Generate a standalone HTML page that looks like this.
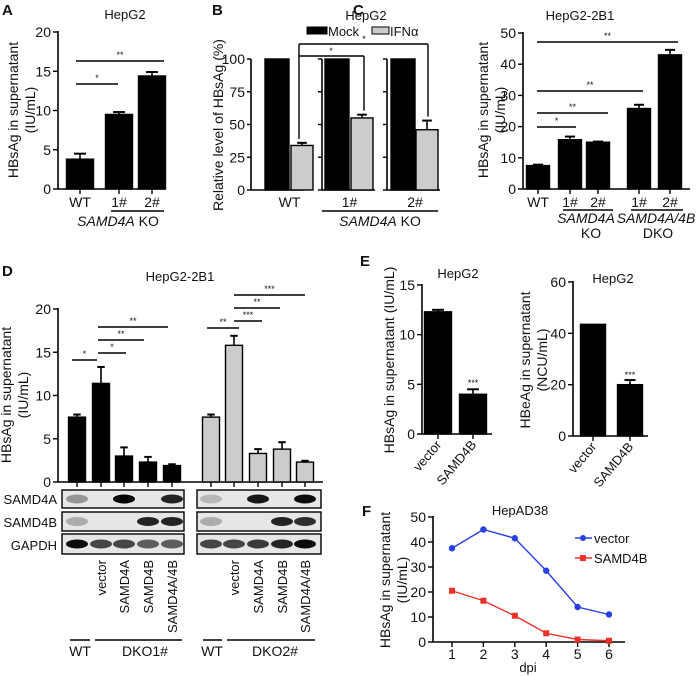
<!DOCTYPE html>
<html><head><meta charset="utf-8"><style>
body{margin:0;background:#fff}
svg{display:block;font-family:"Liberation Sans",Arial,sans-serif}
text{fill:#111}
</style></head><body>
<svg id="fig" width="698" height="676" viewBox="0 0 698 676"></svg>
<script>
// ---- data ----
const aCats=["WT","1#","2#"]; const aVals=[3.8,9.5,14.4]; const aErr=[0.7,0.3,0.5]; const aTicks=[0,5,10,15,20];
const bMock=[100,100,100]; const bIfn=[34,55,46]; const bIfnErr=[2,2.5,7]; const bTicks=[0,25,50,75,100]; const bCats=["WT","1#","2#"];
const cCats=["WT","1#","2#","1#","2#"]; const cVals=[7.5,15.8,15,25.8,43]; const cErr=[0.3,1,0.2,1.2,1.6]; const cTicks=[0,10,20,30,40,50];
const dCats=["WT","vector","SAMD4A","SAMD4B","SAMD4A/4B"]; const d1Vals=[7.5,11.4,3,2.3,1.9]; const d1Err=[0.3,1.9,1,0.6,0.15];
const d2Vals=[7.5,15.8,3.3,3.8,2.3]; const d2Err=[0.3,1.1,0.5,0.8,0.15]; const dTicks=[0,5,10,15,20];
const eCats=["vector","SAMD4B"]; const e1Vals=[12.3,4]; const e1Err=[0.2,0.5]; const e1Ticks=[0,5,10,15];
const e2Vals=[43.5,20]; const e2Err=[0,1.8]; const e2Ticks=[0,20,40,60];
const fDays=[1,2,3,4,5,6]; const fVector=[37.5,45,41.5,28.5,14,11]; const fSamd=[20.5,16.5,10.5,3.5,1,0.5]; const fTicks=[0,10,20,30,40,50];

const S=document.getElementById('fig'); const NS="http://www.w3.org/2000/svg";
function el(tag,at,txt,parent){const e=document.createElementNS(NS,tag);for(const k in at)e.setAttribute(k,at[k]);if(txt!==undefined)e.textContent=txt;(parent||S).appendChild(e);return e;}
function line(x1,y1,x2,y2,name,w){const l=el('line',{x1,y1,x2,y2,stroke:'#000','stroke-width':w||1.4});

return l;}
function txt(x,y,s,name,opt){opt=opt||{};const t=el('text',Object.assign({x,y,'font-size':opt.fs||12,'text-anchor':opt.a||'middle'},opt.attr||{}),s);

if(opt.it)t.setAttribute('font-style','italic');if(opt.b)t.setAttribute('font-weight','bold');if(opt.rot)t.setAttribute('transform',`rotate(${opt.rot} ${x} ${y})`);return t;}
function yAxis(x,y0,y1,ticks,max,name,xEnd){line(x,y1-1,x,y0,name+'-y-axis',1.6);line(x,y0,xEnd,y0,name+'-x-axis',1.6);
ticks.forEach(v=>{const y=y0-(y0-y1)*v/max;line(x-5,y,x,y,name+'-tick');txt(x-7,y+5,String(v),name+'-tick-label',{a:'end',fs:14});});}
function bar(cx,w,val,err,y0,y1,max,fill,name){const sy=v=>y0-(y0-y1)*v/max;const top=sy(val);
const r=el('rect',{x:cx-w/2,y:top,width:w,height:y0-top,fill,stroke:'#000','stroke-width':1.4});


if(err>0){const et=sy(val+err);line(cx,et,cx,top,name+'-error',1.6);line(cx-w*0.22,et,cx+w*0.22,et,name+'-error-cap',2);}return top;}
function star(x1,x2,y,s,name){line(x1,y,x2,y,name+'-line');txt((x1+x2)/2,y-3,s,name,{fs:9});}
function groupLabel(x,y,it,rest,name){const t=el('text',{x,y,'font-size':14,'text-anchor':'middle'});


el('tspan',{'font-style':'italic'},it,t);el('tspan',{},' '+rest,t);return t;}

// ---- Panel A ----
txt(2,15,'A','panel-a-label',{a:'start',b:1,fs:15});
txt(125,19,'HepG2','panel-a-title',{fs:13});
yAxis(58,189,32,aTicks,20,'panel-a',166);
const aX=[80,119,152];
aCats.forEach((c,i)=>{bar(aX[i],27,aVals[i],aErr[i],189,32,20,'#000','panel-a-bar-'+i);line(aX[i],189,aX[i],194,'panel-a-xtick');txt(aX[i],207,c,'panel-a-xlabel',{fs:14});});
star(76,118,84,'*','panel-a-sig-1');star(76,164,61,'**','panel-a-sig-2');
line(111,211,164,211,'panel-a-group-line');
groupLabel(118,226,'SAMD4A','KO','panel-a-group-label');
txt(18,110,'HBsAg in supernatant','panel-a-y-title',{fs:14,rot:-90});txt(35,110,'(IU/mL)','panel-a-y-title-2',{fs:14,rot:-90});

// ---- Panel B ----
txt(212,15,'B','panel-b-label',{a:'start',b:1,fs:15});
txt(366,20,'HepG2','panel-b-title',{fs:13});
let lg=el('rect',{x:307,y:27,width:20,height:7,fill:'#000',stroke:'#000'});
txt(328,36,'Mock','legend-mock',{a:'start',fs:13});
lg=el('rect',{x:372,y:27,width:17,height:7,fill:'#ccc',stroke:'#000'});
txt(390,36,'IFNα','legend-ifn',{a:'start',fs:13});
const bY0=190,bY1=59;
const bAx=[251,322,387]; const bMx=[277,337,403]; const bIx=[302,362,427];
bAx.forEach((ax,g)=>{line(ax,bY1,ax,bY0,'panel-b-axis-'+g,1.6);line(ax,bY0,ax+53,bY0,'panel-b-base-'+g,1.6);
bTicks.forEach(v=>{const y=bY0-(bY0-bY1)*v/100;line(ax-4,y,ax,y,'panel-b-tick');if(g==0)txt(ax-6,y+5,String(v),'panel-b-tick-label',{a:'end',fs:14});});
bar(bMx[g],24,bMock[g],0,bY0,bY1,100,'#000','panel-b-mock-'+g);
bar(bIx[g],22,bIfn[g],bIfnErr[g],bY0,bY1,100,'#ccc','panel-b-ifn-'+g);
txt((bMx[g]+bIx[g])/2,207,bCats[g],'panel-b-xlabel',{fs:14});});
const bs=v=>bY0-(bY0-bY1)*v/100;
line(299,44,428,44,'panel-b-bracket-outer');line(299,44,299,bs(bIfn[0]+bIfnErr[0])-4,'panel-b-bracket-leg');line(428,44,428,bs(bIfn[2]+bIfnErr[2])-4,'panel-b-bracket-leg');
line(299,56,364,56,'panel-b-bracket-inner');line(364,56,364,bs(bIfn[1]+bIfnErr[1])-4,'panel-b-bracket-leg');
txt(364,42,'*','panel-b-sig-outer',{fs:9});txt(331,54,'*','panel-b-sig-inner',{fs:9});
line(322,211,438,211,'panel-b-group-line');
groupLabel(380,226,'SAMD4A','KO','panel-b-group-label');
txt(223,125,'Relative level of HBsAg (%)','panel-b-y-title',{fs:14,rot:-90});

// ---- Panel C ----
txt(353,15,'C','panel-c-label',{a:'start',b:1,fs:15});
txt(580,20,'HepG2-2B1','panel-c-title',{fs:13});
yAxis(523,189,33,cTicks,50,'panel-c',690);
const cX=[538,570,598,639,670];
cCats.forEach((c,i)=>{bar(cX[i],23,cVals[i],cErr[i],189,33,50,'#000','panel-c-bar-'+i);line(cX[i],189,cX[i],194,'panel-c-xtick');txt(cX[i],207,c,'panel-c-xlabel',{fs:14});});
star(537,576,127,'*','panel-c-sig-1');star(537,608,113,'**','panel-c-sig-2');star(537,643,91,'**','panel-c-sig-3');star(537,678,42,'**','panel-c-sig-4');
line(563,210,613,210,'panel-c-group-line-1');line(631,210,683,210,'panel-c-group-line-2');
txt(586,223,'SAMD4A','panel-c-group-1',{fs:14,it:1});txt(656,223,'SAMD4A/4B','panel-c-group-2',{fs:14,it:1});
txt(591,238,'KO','panel-c-group-1b',{fs:14});txt(658,238,'DKO','panel-c-group-2b',{fs:14});
txt(488,110,'HBsAg in supernatant','panel-c-y-title',{fs:14,rot:-90});txt(505,110,'(IU/mL)','panel-c-y-title-2',{fs:14,rot:-90});

// ---- Panel D ----
txt(2,276,'D','panel-d-label',{a:'start',b:1,fs:15});
txt(180,281,'HepG2-2B1','panel-d-title',{fs:13});
yAxis(58,482,309,dTicks,20,'panel-d',323);
const d1X=[77,101,124,148,172], d2X=[211,234,258,282,305];
dCats.forEach((c,i)=>{bar(d1X[i],17,d1Vals[i],d1Err[i],482,309,20,'#000','panel-d-dko1-bar-'+i);bar(d2X[i],17,d2Vals[i],d2Err[i],482,309,20,'#ccc','panel-d-dko2-bar-'+i);
line(d1X[i],482,d1X[i],487,'panel-d-xtick');line(d2X[i],482,d2X[i],487,'panel-d-xtick');
if(i>0){txt(d1X[i]+5,560,c,'panel-d-lane-label',{fs:13,a:'end',rot:-90});txt(d2X[i]+5,560,c,'panel-d-lane-label',{fs:13,a:'end',rot:-90});}});
star(72,97,360,'*','panel-d-sig-1');star(98,126,353,'*','panel-d-sig-2');star(98,144,340,'**','panel-d-sig-3');star(98,168,327,'**','panel-d-sig-4');
star(207,239,328,'**','panel-d-sig-5');star(234,262,321,'***','panel-d-sig-6');star(234,280,308,'**','panel-d-sig-7');star(234,305,295,'***','panel-d-sig-8');
// blots
const blotRows=[["SAMD4A",490,508],["SAMD4B",512,531],["GAPDH",534,554]];
const blotInt={SAMD4A:[[0.35,0,1,0,0.85],[0.2,0,0.9,0,0.95]],SAMD4B:[[0.25,0,0,0.85,0.85],[0.25,0,0,0.85,0.8]],GAPDH:[[0.95,0.7,0.7,0.6,0.6],[0.7,0.7,0.75,0.85,0.95]]};
blotRows.forEach(([nm,y1,y2])=>{txt(57,y2-4,nm,'blot-label-'+nm.toLowerCase(),{a:'end',fs:13});
[[62,184,d1X,0],[197,321,d2X,1]].forEach(([x1,x2,xs,g])=>{const r=el('rect',{x:x1,y:y1,width:x2-x1,height:y2-y1,fill:'#e6e6e6',stroke:'#000','stroke-width':1.4});


xs.forEach((x,i)=>{const v=blotInt[nm][g][i];if(v>0){const b=el('ellipse',{cx:x,cy:(y1+y2)/2,rx:11,ry:4.5,fill:'#000','fill-opacity':v});

}});});});
line(70,640,90,640,'panel-d-wt-line-1');line(95,640,182,640,'panel-d-dko1-line');line(203,640,222,640,'panel-d-wt-line-2');line(227,640,315,640,'panel-d-dko2-line');
txt(80,656,'WT','panel-d-wt-1',{fs:14});txt(145,656,'DKO1#','panel-d-dko1',{fs:14});txt(212,656,'WT','panel-d-wt-2',{fs:14});txt(275,656,'DKO2#','panel-d-dko2',{fs:14});
txt(11,395,'HBsAg in supernatant','panel-d-y-title',{fs:14,rot:-90});txt(28,395,'(IU/mL)','panel-d-y-title-2',{fs:14,rot:-90});

// ---- Panel E ----
txt(360,266,'E','panel-e-label',{a:'start',b:1,fs:15});
txt(458,278,'HepG2','panel-e1-title',{fs:13});
yAxis(422,434,285,e1Ticks,15,'panel-e1',492);
const e1X=[438,473];
eCats.forEach((c,i)=>{bar(e1X[i],27,e1Vals[i],e1Err[i],434,285,15,'#000','panel-e1-bar-'+i);line(e1X[i],434,e1X[i],439,'panel-e1-xtick');txt(e1X[i]+4,445,c,'panel-e1-xlabel',{fs:13,a:'end',rot:-50});});
txt(e1X[1],386,'***','panel-e1-sig',{fs:9});
txt(394,360,'HBsAg in supernatant (IU/mL)','panel-e1-y-title',{fs:14,rot:-90});
txt(613,283,'HepG2','panel-e2-title',{fs:13});
yAxis(573,436,282,e2Ticks,60,'panel-e2',648);
const e2X=[593,630];
eCats.forEach((c,i)=>{bar(e2X[i],25,e2Vals[i],e2Err[i],436,282,60,'#000','panel-e2-bar-'+i);line(e2X[i],436,e2X[i],441,'panel-e2-xtick');txt(e2X[i]+4,447,c,'panel-e2-xlabel',{fs:13,a:'end',rot:-50});});
txt(e2X[1],378,'***','panel-e2-sig',{fs:9});
txt(530,360,'HBeAg in supernatant','panel-e2-y-title',{fs:14,rot:-90});txt(547,360,'(NCU/mL)','panel-e2-y-title-2',{fs:14,rot:-90});

// ---- Panel F ----
txt(362,516,'F','panel-f-label',{a:'start',b:1,fs:15});
txt(520,515,'HepAD38','panel-f-title',{fs:13});
const fY0=642,fY1=517,fx=d=>452+(d-1)*31.4,fy=v=>fY0-(fY0-fY1)*v/50;
yAxis(433,fY0,fY1,fTicks,50,'panel-f',625);
fDays.forEach(d=>{line(fx(d),fY0,fx(d),fY0+5,'panel-f-xtick');txt(fx(d),659,String(d),'panel-f-xlabel',{fs:14});});
txt(528,672,'dpi','panel-f-x-title',{fs:13});
function series(vals,color,name,sq){const p=el('polyline',{points:vals.map((v,i)=>fx(fDays[i])+','+fy(v)).join(' '),fill:'none',stroke:color,'stroke-width':1.4});


vals.forEach((v,i)=>{const m=sq?el('rect',{x:fx(fDays[i])-3,y:fy(v)-3,width:6,height:6,fill:color}):el('circle',{cx:fx(fDays[i]),cy:fy(v),r:3.2,fill:color});

});}
series(fVector,'#2a3ee6','series-vector',false);series(fSamd,'#e8322a','series-samd4b',true);
let ll=line(575,538,592,538,'legend-vector-line');ll.setAttribute('stroke','#2a3ee6');
let lm=el('circle',{cx:583,cy:538,r:3,fill:'#2a3ee6'});
txt(594,543,'vector','legend-vector',{a:'start',fs:13});
ll=line(575,558,592,558,'legend-samd4b-line');ll.setAttribute('stroke','#e8322a');
lm=el('rect',{x:580,y:555,width:6,height:6,fill:'#e8322a'});
txt(594,563,'SAMD4B','legend-samd4b',{a:'start',fs:13});
txt(390,580,'HBsAg in supernatant','panel-f-y-title',{fs:14,rot:-90});txt(407,580,'(IU/mL)','panel-f-y-title-2',{fs:14,rot:-90});
</script>
</body></html>
